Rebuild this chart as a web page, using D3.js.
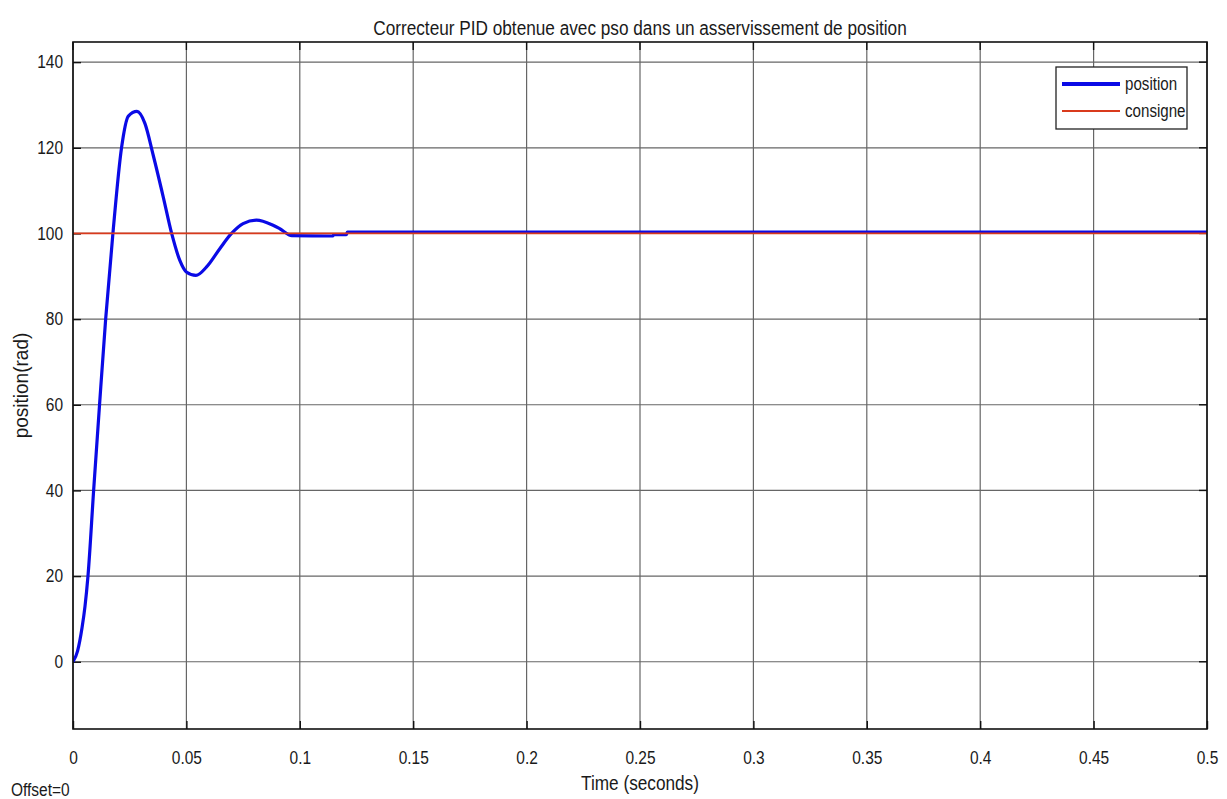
<!DOCTYPE html>
<html>
<head>
<meta charset="utf-8">
<script src="https://cdn.jsdelivr.net/npm/d3@7"></script>
<style>
  html, body { margin: 0; padding: 0; background: #ffffff; }
  svg { display: block; }
  text { font-family: "Liberation Sans", Arial, sans-serif; fill: #1a1a1a; }
</style>
</head>
<body>
<svg id="chart" width="1227" height="799"></svg>
<script>
// Step response of the position loop (time in seconds, position in rad)
const timeS = [0, 0.002, 0.004, 0.0053, 0.0066, 0.0091, 0.0117, 0.0144, 0.0176, 0.0214,
               0.0244, 0.0282, 0.0317, 0.0354, 0.0398, 0.0435, 0.0471, 0.05,
               0.0542, 0.0589, 0.0648, 0.0699, 0.075, 0.0809, 0.0882, 0.0912, 0.0965, 0.1145,
               0.115, 0.1205, 0.121, 0.5];
const position = [0, 2.5, 8, 13, 20, 40, 60, 80, 100, 120,
                  127.4, 128.5, 125.7, 118.2, 108.5, 100, 93.7, 91,
                  90.2, 92.2, 96.5, 100, 102.3, 103.1, 101.9, 101.1, 99.5, 99.4,
                  99.7, 99.7, 100.3, 100.3];

// Setpoint
const consigneTime = [0, 0.5];
const consigne = [100, 100];

const xTicks = [0, 0.05, 0.1, 0.15, 0.2, 0.25, 0.3, 0.35, 0.4, 0.45, 0.5];
const yTicks = [0, 20, 40, 60, 80, 100, 120, 140];
const legendLabels = ["position", "consigne"];

const plotL = 73, plotR = 1207, plotT = 42, plotB = 729;
const NARROW = 0.86;   // horizontal squeeze applied to every label

const svg = d3.select("#chart");

// squeeze a text node horizontally while keeping its anchor
function squeeze(sel, k) {
  sel.each(function () {
    const len = this.getComputedTextLength();
    d3.select(this).attr("textLength", len * k).attr("lengthAdjust", "spacingAndGlyphs");
  });
}

const x = d3.scaleLinear().domain([0, 0.5]).range([plotL, plotR]);
const y = d3.scaleLinear().domain([-15.7, 144.7]).range([plotB, plotT]);

// grid
const grid = svg.append("g");
grid.selectAll("line.gx").data(xTicks).join("line").attr("class", "gx")
  .attr("x1", d => x(d)).attr("x2", d => x(d))
  .attr("y1", plotT).attr("y2", plotB)
  .attr("stroke", "#666").attr("stroke-width", 1.2);
grid.selectAll("line.gy").data(yTicks).join("line").attr("class", "gy")
  .attr("x1", plotL).attr("x2", plotR)
  .attr("y1", d => y(d)).attr("y2", d => y(d))
  .attr("stroke", "#666").attr("stroke-width", 1.2);

// axes with inward ticks
const xAxis = d3.axisBottom(x).tickValues(xTicks).tickSize(-8).tickPadding(22)
  .tickFormat(d => d3.format("~g")(d));
const yAxis = d3.axisLeft(y).tickValues(yTicks).tickSize(-8).tickPadding(10);

const gx = svg.append("g").attr("transform", `translate(0,${plotB})`).call(xAxis);
const gy = svg.append("g").attr("transform", `translate(${plotL},0)`).call(yAxis);
[gx, gy].forEach(g => {
  g.select(".domain").remove();
  g.selectAll(".tick line").attr("stroke", "#111").attr("stroke-width", 1.4);
  g.selectAll(".tick text").attr("font-size", 18).attr("fill", "#1a1a1a")
    .attr("font-family", '"Liberation Sans", Arial, sans-serif');
  squeeze(g.selectAll(".tick text"), NARROW);
});
// top/right ticks
svg.append("g").selectAll("line").data(xTicks).join("line")
  .attr("x1", d => x(d)).attr("x2", d => x(d)).attr("y1", plotT).attr("y2", plotT + 8)
  .attr("stroke", "#111").attr("stroke-width", 1.4);
svg.append("g").selectAll("line").data(yTicks).join("line")
  .attr("x1", plotR - 8).attr("x2", plotR).attr("y1", d => y(d)).attr("y2", d => y(d))
  .attr("stroke", "#111").attr("stroke-width", 1.4);

// series
svg.append("clipPath").attr("id", "plotclip").append("rect")
  .attr("x", plotL).attr("y", plotT).attr("width", plotR - plotL).attr("height", plotB - plotT);

const posData = timeS.map((t, i) => [t, position[i]]);
const conData = consigneTime.map((t, i) => [t, consigne[i]]);

const posLine = d3.line().x(d => x(d[0])).y(d => y(d[1])).curve(d3.curveMonotoneX);
const conLine = d3.line().x(d => x(d[0])).y(d => y(d[1]));

svg.append("path").datum(posData)
  .attr("clip-path", "url(#plotclip)")
  .attr("d", posLine)
  .attr("fill", "none").attr("stroke", "#0a0ae6").attr("stroke-width", 3.2)
  .attr("stroke-linejoin", "round");

svg.append("path").datum(conData)
  .attr("clip-path", "url(#plotclip)")
  .attr("d", conLine)
  .attr("fill", "none").attr("stroke", "#d93a1c").attr("stroke-width", 1.8);

// frame
svg.append("rect").attr("x", plotL).attr("y", plotT)
  .attr("width", plotR - plotL).attr("height", plotB - plotT)
  .attr("fill", "none").attr("stroke", "#111").attr("stroke-width", 1.6);

// legend
const lg = svg.append("g");
lg.append("rect").attr("x", 1056).attr("y", 67).attr("width", 131).attr("height", 62)
  .attr("fill", "#ffffff").attr("stroke", "#222").attr("stroke-width", 1.3);
const legendColors = ["#0a0ae6", "#d93a1c"];
const legendWidths = [4, 2.2];
legendLabels.forEach((lab, i) => {
  const ly = 84 + i * 27;
  lg.append("line").attr("x1", 1062).attr("x2", 1120).attr("y1", ly).attr("y2", ly)
    .attr("stroke", legendColors[i]).attr("stroke-width", legendWidths[i]);
  lg.append("text").attr("x", 1125).attr("y", ly + 6).attr("font-size", 18).text(lab)
    .call(squeeze, 0.84);
});

// titles
svg.append("text").attr("x", (plotL + plotR) / 2).attr("y", 35)
  .attr("text-anchor", "middle").attr("font-size", 20)
  .text("Correcteur PID obtenue avec pso dans un asservissement de position")
  .call(squeeze, 0.86);
svg.append("text").attr("x", (plotL + plotR) / 2).attr("y", 790)
  .attr("text-anchor", "middle").attr("font-size", 20)
  .text("Time (seconds)")
  .call(squeeze, 0.86);
svg.append("text").attr("transform", `translate(28,${(plotT + plotB) / 2}) rotate(-90)`)
  .attr("text-anchor", "middle").attr("font-size", 20)
  .text("position(rad)")
  .call(squeeze, 0.95);
svg.append("text").attr("x", 11).attr("y", 796).attr("font-size", 18).text("Offset=0")
  .call(squeeze, 0.86);
</script>
</body>
</html>
